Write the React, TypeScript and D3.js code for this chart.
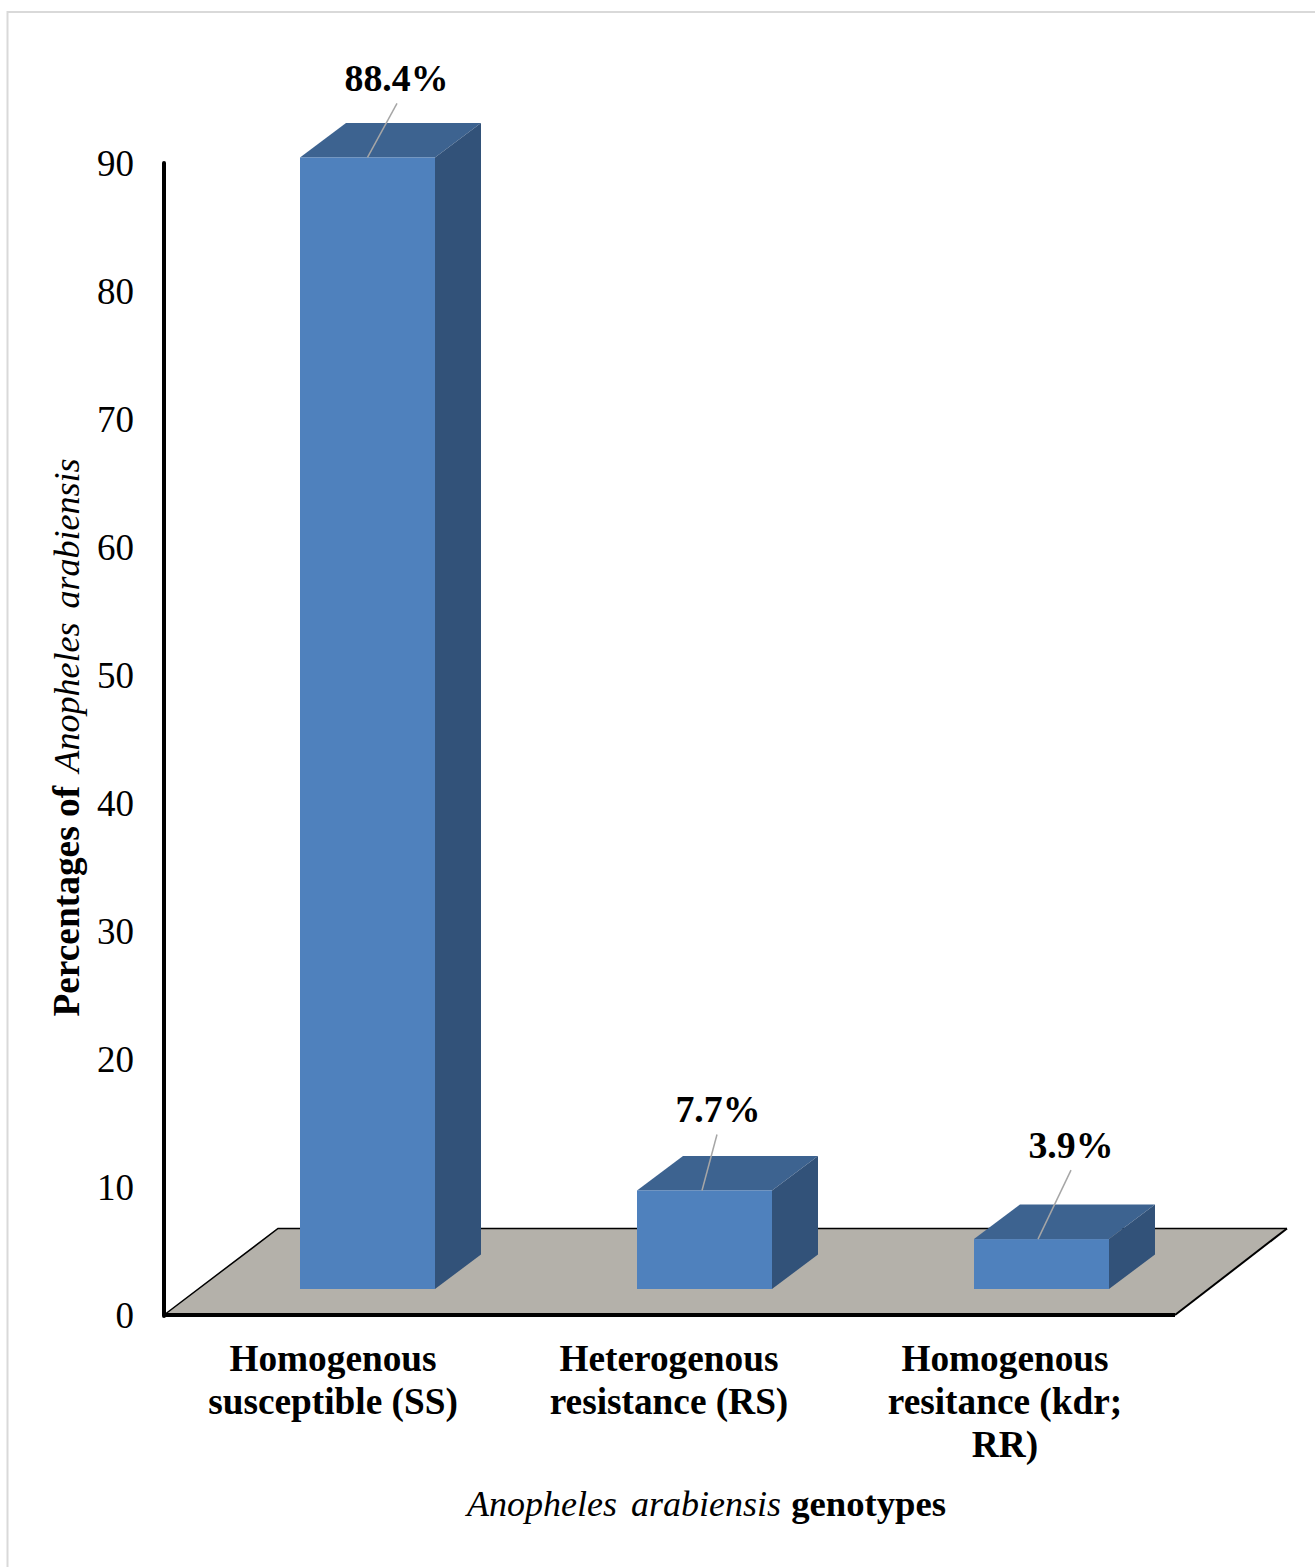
import React from "react";
import * as d3 from "d3";

const genotypes = ["SS", "RS", "RR"];
const percentages = [88.4, 7.7, 3.9];
const valueLabels = ["88.4%", "7.7%", "3.9%"];
const categoryLines = [
  ["Homogenous", "susceptible (SS)"],
  ["Heterogenous", "resistance (RS)"],
  ["Homogenous", "resitance (kdr;", "RR)"],
];
const yTicks = [0, 10, 20, 30, 40, 50, 60, 70, 80, 90];

// Callout geometry of each label, relative to the centre of its column's front-top edge.
const calloutOffsets = [
  { footDx: 0, tipDx: 29.5, tipDy: -54, labelDx: 29, labelDy: -66 },
  { footDx: -2.5, tipDx: 12.5, tipDy: -56, labelDx: 13.5, labelDy: -68 },
  { footDx: -3.5, tipDx: 29.5, tipDy: -69, labelDx: 29.5, labelDy: -81 },
];

const WIDTH = 1315;
const HEIGHT = 1567;
const FONT = "'Liberation Serif', 'Times New Roman', serif";

const AXIS_X = 164;
const AXIS_Y = 1315;
const FLOOR_RIGHT = 1175;
const DEPTH_X = 46;
const DEPTH_Y = 34.5;
const COLUMN_WIDTH = 135;
const FRONT_SHIFT_X = 34.5;
const FRONT_SHIFT_Y = 26;

const xColumns = d3.scaleBand<string>().domain(genotypes).range([164.5, 1175.5]);
const xLabels = d3.scaleBand<string>().domain(genotypes).range([165, 1173]);
const y = d3.scaleLinear().domain([0, 90]).range([1315, 163]);
const poly = d3.line();

export default function App() {
  const base = y(0) - FRONT_SHIFT_Y;
  const unit = y(0) - y(1);
  return (
    <svg
      width={WIDTH}
      height={HEIGHT}
      viewBox={`0 0 ${WIDTH} ${HEIGHT}`}
      style={{ position: "absolute", left: 0, top: 0, background: "#fff" }}
      fontFamily={FONT}
    >
      <rect x={7.5} y={12} width={WIDTH + 20} height={HEIGHT + 20} fill="#fff" stroke="#d9d9d9" strokeWidth={2} />

      {/* chart floor */}
      <path
        d={poly([[AXIS_X, AXIS_Y], [278, 1228], [1287, 1228], [FLOOR_RIGHT, AXIS_Y]]) + "Z"}
        fill="#b4b1aa"
      />
      <path d={poly([[AXIS_X, AXIS_Y], [278, 1228.5], [1287, 1228.5]]) ?? ""} fill="none" stroke="#000" strokeWidth={1.5} />
      <path d={poly([[1287, 1228.5], [FLOOR_RIGHT, AXIS_Y]]) ?? ""} fill="none" stroke="#000" strokeWidth={2} />

      {/* axes */}
      <line x1={AXIS_X} x2={AXIS_X} y1={163} y2={AXIS_Y + 1} stroke="#000" strokeWidth={4} strokeLinecap="round" />
      <line x1={AXIS_X - 1} x2={FLOOR_RIGHT} y1={AXIS_Y} y2={AXIS_Y} stroke="#000" strokeWidth={4} />

      {/* columns */}
      {genotypes.map((g, i) => {
        const left = (xColumns(g) as number) + xColumns.bandwidth() / 2 - COLUMN_WIDTH / 2 + FRONT_SHIFT_X;
        const right = left + COLUMN_WIDTH;
        const top = base - percentages[i] * unit;
        const c = calloutOffsets[i];
        const mid = (left + right) / 2;
        return (
          <g key={g}>
            <path
              d={poly([[left, top], [left + DEPTH_X, top - DEPTH_Y], [right + DEPTH_X, top - DEPTH_Y], [right, top]]) + "Z"}
              fill="#3d6390"
            />
            <path
              d={poly([[right, top], [right + DEPTH_X, top - DEPTH_Y], [right + DEPTH_X, base - DEPTH_Y], [right, base]]) + "Z"}
              fill="#325279"
            />
            <rect x={left} y={top} width={COLUMN_WIDTH} height={base - top} fill="#4f81bd" />
            <line x1={mid + c.footDx} y1={top} x2={mid + c.tipDx} y2={top + c.tipDy} stroke="#a6a6a6" strokeWidth={1.5} />
            <text
              x={mid + c.labelDx}
              y={top + c.labelDy}
              textAnchor="middle"
              fontSize={37.8}
              fontWeight="bold"
              fill="#000"
            >
              {valueLabels[i]}
            </text>
          </g>
        );
      })}

      {/* value axis labels */}
      {yTicks.map((t) => (
        <text key={t} x={134} y={y(t) + 12.5} textAnchor="end" fontSize={37} fill="#000">
          {t}
        </text>
      ))}

      {/* category labels */}
      {genotypes.map((g, i) => (
        <text key={g} textAnchor="middle" fontSize={37.3} fontWeight="bold" fill="#000">
          {categoryLines[i].map((line, j) => (
            <tspan key={line} x={(xLabels(g) as number) + xLabels.bandwidth() / 2} y={1371 + j * 43}>
              {line}
            </tspan>
          ))}
        </text>
      ))}

      {/* axis titles */}
      <text x={706.5} y={1516} textAnchor="middle" fontSize={36} fill="#000">
        <tspan fontStyle="italic" wordSpacing={5}>Anopheles arabiensis</tspan>
        <tspan fontWeight="bold" fontSize={36.7} dx={1}> genotypes</tspan>
      </text>
      <text
        transform="translate(79,737.5) rotate(-90)"
        textAnchor="middle"
        fontSize={36}
        fill="#000"
      >
        <tspan fontWeight="bold" fontSize={37.4}>Percentages of </tspan>
        <tspan fontStyle="italic" dx={4} wordSpacing={5}>Anopheles arabiensis</tspan>
      </text>
    </svg>
  );
}
